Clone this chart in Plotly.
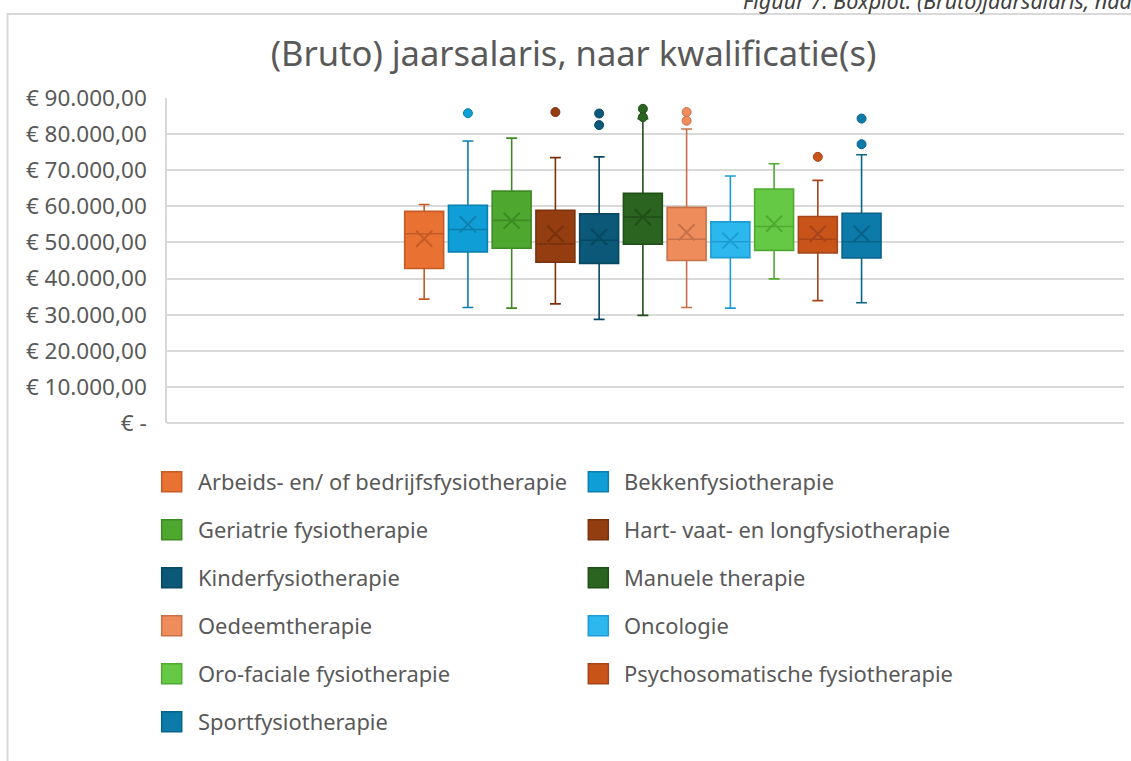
import plotly.graph_objects as go

categories = [
    "Arbeids- en/ of bedrijfsfysiotherapie",
    "Bekkenfysiotherapie",
    "Geriatrie fysiotherapie",
    "Hart- vaat- en longfysiotherapie",
    "Kinderfysiotherapie",
    "Manuele therapie",
    "Oedeemtherapie",
    "Oncologie",
    "Oro-faciale fysiotherapie",
    "Psychosomatische fysiotherapie",
    "Sportfysiotherapie",
]
lower_whisker = [34300, 32000, 31800, 33000, 28700, 29800, 32000, 31800, 39900, 33900, 33300]
q1 = [42800, 47400, 48400, 44500, 44200, 49500, 45000, 45800, 47800, 47100, 45700]
median = [52400, 53600, 56100, 49600, 50600, 57000, 50900, 50200, 54400, 50900, 50200]
q3 = [58600, 60300, 64200, 58900, 57900, 63600, 59700, 55700, 64800, 57200, 58100]
upper_whisker = [60500, 78100, 78900, 73500, 73700, 84300, 81400, 68400, 71800, 67200, 74300]
mean = [51000, 55000, 56000, 52400, 51500, 57000, 52800, 50500, 55200, 52400, 52400]
outliers = [[], [85800], [], [86100], [85700, 82500], [87000, 84700],
            [86100, 83700], [], [], [73700], [84300, 77200]]

tick_vals = [0, 10000, 20000, 30000, 40000, 50000, 60000, 70000, 80000, 90000]
tick_text = ["€ -", "€ 10.000,00", "€ 20.000,00", "€ 30.000,00", "€ 40.000,00",
             "€ 50.000,00", "€ 60.000,00", "€ 70.000,00", "€ 80.000,00", "€ 90.000,00"]

title_text = "(Bruto) jaarsalaris, naar kwalificatie(s)"
caption_text = "Figuur 7: Boxplot: (Bruto)jaarsalaris, naar kwalificatie(s)"

fill_colors = ["#E97132", "#0F9ED5", "#4EA72E", "#933D10", "#0B5878", "#2B6320",
               "#EE8C5C", "#2CB8EE", "#66C946", "#C9541A", "#0C7BAA"]
line_colors = ["#C55B26", "#0B80AE", "#3E8A24", "#7A320C", "#084862", "#214F18",
               "#C7714A", "#1C9CD0", "#4FAA31", "#A8441A", "#09628A"]

W, H = 1131, 761
ML, MR, MT, MB = 167, 7, 98, 338
PW = W - ML - MR
PH = H - MT - MB
FONT = "Noto Sans"
TXT = "#595959"


def xp(px):
    return (px - ML) / PW


def yp(py):
    return (H - MB - py) / PH


fig = go.Figure()

for i, name in enumerate(categories):
    fig.add_trace(go.Box(
        x=[i], q1=[q1[i]], median=[median[i]], q3=[q3[i]],
        lowerfence=[lower_whisker[i]], upperfence=[upper_whisker[i]],
        orientation="v", name=name, width=0.89, whiskerwidth=0.28,
        fillcolor=fill_colors[i], line=dict(color=line_colors[i], width=1.6),
        boxpoints=False, showlegend=False, hoverinfo="skip",
    ))
    fig.add_trace(go.Scatter(
        x=[i], y=[mean[i]], mode="markers", showlegend=False, hoverinfo="skip",
        marker=dict(symbol="x-thin", size=16, color=line_colors[i],
                    line=dict(color=line_colors[i], width=2)),
    ))
    if outliers[i]:
        fig.add_trace(go.Scatter(
            x=[i] * len(outliers[i]), y=outliers[i], mode="markers",
            showlegend=False, hoverinfo="skip",
            marker=dict(symbol="circle", size=9, color=fill_colors[i],
                        line=dict(color=line_colors[i], width=1)),
        ))

shapes = []
annotations = []

# chart border
shapes.append(dict(type="rect", xref="paper", yref="paper",
                   x0=xp(7.5), x1=xp(1200), y0=yp(14), y1=yp(800),
                   line=dict(color="#D9D9D9", width=2), fillcolor="rgba(0,0,0,0)",
                   layer="below"))

# manual legend (two columns)
col_sq = [161.7, 588.3]
col_txt = [198, 624.3]
row_y0 = 481.7
row_step = 48
sq = 20
for i, name in enumerate(categories):
    r, c = divmod(i, 2)
    cy = row_y0 + r * row_step
    shapes.append(dict(type="rect", xref="paper", yref="paper",
                       x0=xp(col_sq[c]), x1=xp(col_sq[c] + sq),
                       y0=yp(cy - sq / 2), y1=yp(cy + sq / 2),
                       fillcolor=fill_colors[i],
                       line=dict(color=line_colors[i], width=1.5)))
    annotations.append(dict(xref="paper", yref="paper", x=xp(col_txt[c] - 2), y=yp(cy),
                            xanchor="left", yanchor="middle", showarrow=False,
                            text=name, font=dict(family=FONT, size=21.9, color=TXT)))

annotations.append(dict(xref="paper", yref="paper", x=xp(741), y=yp(1),
                        xanchor="left", yanchor="middle", showarrow=False,
                        text=caption_text,
                        font=dict(family=FONT, size=21.5, color="#404040", style="italic")))

fig.update_layout(
    width=W, height=H,
    margin=dict(l=ML, r=MR, t=MT, b=MB, pad=0),
    paper_bgcolor="white", plot_bgcolor="white",
    title=dict(text=title_text, xref="container", yref="container",
               x=573.5 / W, y=1 - 54 / H, xanchor="center", yanchor="middle",
               font=dict(family=FONT, size=34.5, color=TXT)),
    xaxis=dict(range=[-5.88, 16.0], showticklabels=False, showgrid=False,
               zeroline=False, showline=False, fixedrange=True),
    yaxis=dict(range=[0, 90000], tickvals=tick_vals, ticktext=tick_text,
               showgrid=True, gridcolor="#D9D9D9", gridwidth=1.5,
               zeroline=True, zerolinecolor="#D9D9D9", zerolinewidth=1.5,
               showline=True, linecolor="#D9D9D9", linewidth=1.5,
               ticks="", ticklabelstandoff=14,
               tickfont=dict(family=FONT, size=22.5, color=TXT)),
    shapes=shapes, annotations=annotations,
    showlegend=False,
)

fig.write_html("out.html", config={"displayModeBar": False},
               post_script="document.body.style.margin='0';")
